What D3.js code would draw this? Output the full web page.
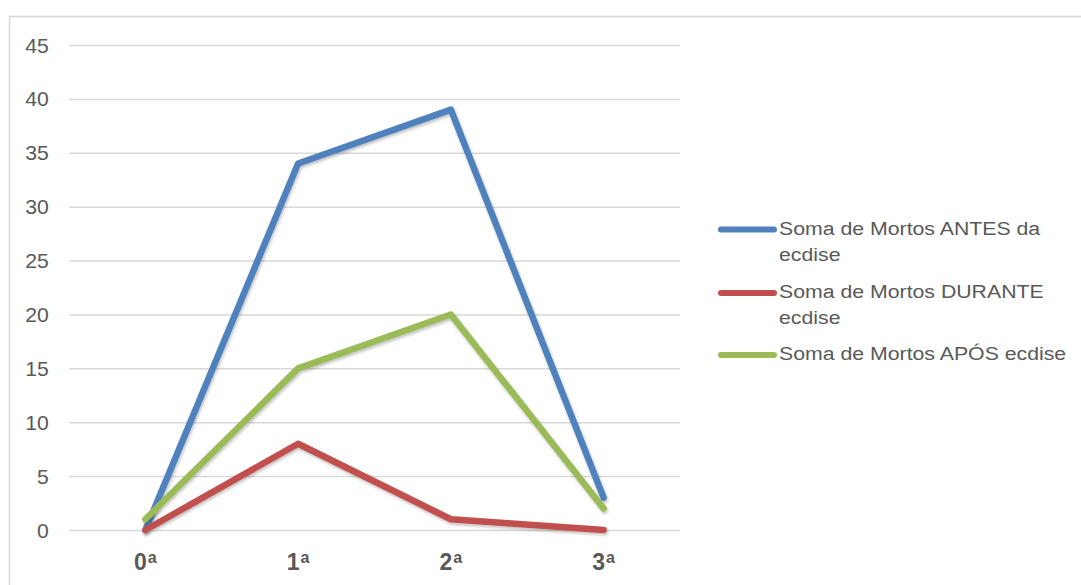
<!DOCTYPE html>
<html>
<head>
<meta charset="utf-8">
<script src="https://cdn.jsdelivr.net/npm/d3@7"></script>
<style>
  html, body { margin: 0; padding: 0; background: #fff; }
  svg { display: block; font-family: "Liberation Sans", Arial, sans-serif; }
</style>
</head>
<body>
<svg id="chart" width="1081" height="585"></svg>
<script>
// Mortality counts per instar
const categories = ["0ª", "1ª", "2ª", "3ª"];
const seriesNames = [
  ["Soma de Mortos ANTES da", "ecdise"],
  ["Soma de Mortos DURANTE", "ecdise"],
  ["Soma de Mortos APÓS ecdise"]
];
const antes = [0, 34, 39, 3];
const durante = [0, 8, 1, 0];
const apos = [1, 15, 20, 2];
const colors = ["#4f81bd", "#c0504d", "#9bbb59"];
const yTicks = [0, 5, 10, 15, 20, 25, 30, 35, 40, 45];

const FONT = "'Liberation Sans', Arial, sans-serif";
const svg = d3.select("#chart");
const plot = { left: 69, right: 680, top: 45, bottom: 530 };

// Outer chart frame
svg.append("rect")
  .attr("x", 9.5).attr("y", 16.5)
  .attr("width", 1100).attr("height", 600)
  .attr("fill", "none").attr("stroke", "#d9d9d9").attr("stroke-width", 1.5);

const x = d3.scaleBand().domain(categories).range([plot.left, plot.right]);
const y = d3.scaleLinear().domain([0, 45]).range([plot.bottom, plot.top]);

// Soft shadow under the lines
const defs = svg.append("defs");
const f = defs.append("filter").attr("id", "shadow")
  .attr("x", "-10%").attr("y", "-10%").attr("width", "120%").attr("height", "120%");
f.append("feDropShadow").attr("dx", 1).attr("dy", 2).attr("stdDeviation", 1.5)
  .attr("flood-color", "#000").attr("flood-opacity", 0.25);

// Horizontal gridlines and y labels
const yAxis = d3.axisLeft(y).tickValues(yTicks)
  .tickSize(-(plot.right - plot.left)).tickPadding(19);
const gy = svg.append("g").attr("transform", `translate(${plot.left},0)`).call(yAxis);
gy.attr("font-family", FONT).attr("font-size", 20);
gy.select(".domain").remove();
gy.selectAll(".tick line").attr("stroke", "#d9d9d9").attr("stroke-width", 1.5);
gy.selectAll(".tick text").attr("fill", "#595959").attr("dy", "0.35em")
  .attr("transform", "scale(1.06,1)");

// Category axis labels: number with raised ordinal "a"
const xAxis = d3.axisBottom(x).tickSize(0).tickPadding(0);
const gx = svg.append("g").attr("transform", `translate(0,${plot.bottom})`).call(xAxis);
gx.attr("font-family", FONT);
gx.select(".domain").remove();
gx.selectAll(".tick text")
  .attr("fill", "#595959").attr("font-weight", "bold")
  .attr("y", 40).attr("dy", 0)
  .each(function (d) {
    const t = d3.select(this).text("");
    t.append("tspan").attr("font-size", 23).text(d.slice(0, -1));
    t.append("tspan").attr("font-size", 16).attr("dy", -7).attr("dx", 1).text("a");
  });

// Series lines
const line = d3.line()
  .x((d, i) => x(categories[i]) + x.bandwidth() / 2)
  .y(d => y(d));

[antes, durante, apos].forEach((vals, k) => {
  svg.append("path")
    .datum(vals)
    .attr("d", line)
    .attr("fill", "none")
    .attr("stroke", colors[k])
    .attr("stroke-width", 6.5)
    .attr("stroke-linecap", "round")
    .attr("stroke-linejoin", "round")
    .attr("filter", "url(#shadow)");
});

// Legend
const legendY = [229.5, 293, 355];
const lg = svg.append("g").attr("font-family", FONT);
seriesNames.forEach((lines, k) => {
  lg.append("line")
    .attr("x1", 721).attr("x2", 774)
    .attr("y1", legendY[k]).attr("y2", legendY[k])
    .attr("stroke", colors[k]).attr("stroke-width", 6)
    .attr("stroke-linecap", "round");
  lines.forEach((t, j) => {
    lg.append("text")
      .attr("transform", `translate(779,${legendY[k] + 5 + j * 26}) scale(1.12,1)`)
      .attr("fill", "#595959").attr("font-size", 19)
      .text(t);
  });
});
</script>
</body>
</html>
